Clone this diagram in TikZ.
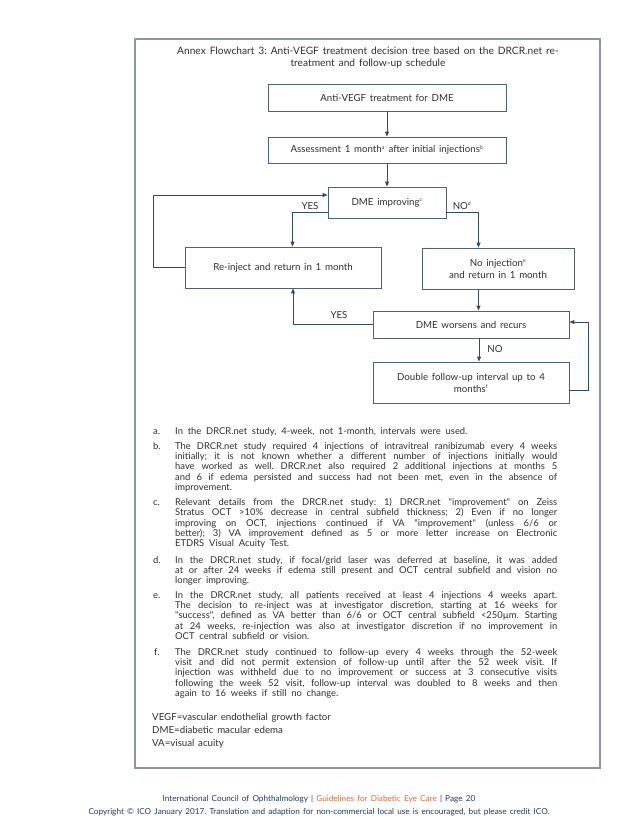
\documentclass[tikz,border=0pt]{standalone}
\usepackage{fontspec}
\setmainfont{Lato}[WordSpace=1.5]
\newfontfamily\notefont{Lato}[WordSpace=2.0]
\usepackage{xcolor}
\usetikzlibrary{arrows.meta, positioning, calc}
\definecolor{icoline}{HTML}{2F4D6B}
\definecolor{icobox}{HTML}{4B6378}
\definecolor{icoframe}{HTML}{8A98A6}
\definecolor{icotext}{HTML}{2E2E2E}
\definecolor{iconavy}{HTML}{1F3A5A}
\definecolor{icoorange}{HTML}{E0673A}
\frenchspacing

\begin{document}
\begin{tikzpicture}[
    x=1pt, y=-1pt,
    every node/.style={text=icotext},
    stepbox/.style={rectangle, draw=icobox, line width=0.8pt,
                    minimum width=#1, align=center, inner sep=2pt,
                    font=\fontsize{9.7}{12}\selectfont},
    flow/.style={-{Triangle[width=4pt,length=5pt]}, draw=icoline, line width=0.9pt},
    lbl/.style={font=\fontsize{9.7}{11}\selectfont, inner sep=1pt},
    note/.style={anchor=north west, inner sep=0pt, text width=382pt, align=justify,
                 font=\notefont\fontsize{9.4}{10.3}\selectfont},
    notelab/.style={anchor=base west, inner sep=0pt, font=\notefont\fontsize{9.4}{10.3}\selectfont},
]
\useasboundingbox (0,0) rectangle (638,826);
\draw[icoframe, line width=1.4pt] (135,39) rectangle (600,768);

% title
\node[align=center, font=\fontsize{10.2}{11.5}\selectfont] (title) at (368,57.5)
    {Annex Flowchart 3: Anti-VEGF treatment decision tree based on the DRCR.net re-\\treatment and follow-up schedule};

% flowchart boxes
\node[stepbox=238pt, minimum height=27pt] (treat)   at (387,97.5)  {Anti-VEGF treatment for DME};
\node[stepbox=238pt, minimum height=26pt] (assess)  at (387,150)   {Assessment 1 month\textsuperscript{\tiny a} after initial injections\textsuperscript{\tiny b}};
\node[stepbox=118pt, minimum height=31pt] (improve) at (387,202.5) {DME improving\textsuperscript{\tiny c}};
\node[stepbox=196pt, minimum height=41pt] (reinject) at (283,267.5) {Re-inject and return in 1 month};
\node[stepbox=152pt, minimum height=41pt] (noinj)   at (498,268.5) {No injection\textsuperscript{\tiny e}\\and return in 1 month};
\node[stepbox=196pt, minimum height=27pt] (worsens) at (471,324.5) {DME worsens and recurs};
\node[stepbox=196pt, minimum height=41pt] (double)  at (471,382.5) {Double follow-up interval up to 4\\months\textsuperscript{\tiny f}};

% connectors
\draw[flow] (treat) -- (assess);
\draw[flow] (assess) -- (improve);
\draw[flow] ([yshift=-9.5pt]improve.west) -| ([xshift=9.5pt]reinject.north);
\draw[flow] ([yshift=-9.5pt]improve.east) -| ([xshift=-19.5pt]noinj.north);
\draw[flow] (reinject.west) -- ++(-31,0) |- ([yshift=7.5pt]improve.west);
\draw[flow] ([xshift=-19.5pt]noinj.south) -- ([xshift=-19.5pt]noinj.south |- worsens.north);
\draw[flow] (worsens.west) -| ([xshift=10pt]reinject.south);
\draw[flow] ([xshift=8pt]worsens.south) -- ([xshift=8pt]worsens.south |- double.north);
\draw[flow] ([yshift=-7.5pt]double.east) -- ++(19,0) |- ([yshift=2.5pt]worsens.east);

% branch labels
\node[lbl] (yesa) at (310,206) {YES};
\node[lbl] (noa)  at (462,206) {NO\textsuperscript{\tiny d}};
\node[lbl] (yesb) at (339,315) {YES};
\node[lbl] (nob)  at (495,349) {NO};

% notes
\node[note] (notea) at (175,427) {In the DRCR.net study, 4-week, not 1-month, intervals were used.};
\node[note] (noteb) at (175,442) {The DRCR.net study required 4 injections of intravitreal ranibizumab every 4 weeks\linebreak
  initially; it is not known whether a different number of injections initially would\linebreak
  have worked as well. DRCR.net also required 2 additional injections at months 5\linebreak
  and 6 if edema persisted and success had not been met, even in the absence of\linebreak
  improvement.};
\node[note] (notec) at (175,498) {Relevant details from the DRCR.net study: 1) DRCR.net "improvement" on Zeiss\linebreak
  Stratus OCT >10\% decrease in central subfield thickness; 2) Even if no longer\linebreak
  improving on OCT, injections continued if VA "improvement" (unless 6/6 or\linebreak
  better); 3) VA improvement defined as 5 or more letter increase on Electronic\linebreak
  ETDRS Visual Acuity Test.};
\node[note] (noted) at (175,556) {In the DRCR.net study, if focal/grid laser was deferred at baseline, it was added\linebreak
  at or after 24 weeks if edema still present and OCT central subfield and vision no\linebreak
  longer improving.};
\node[note] (notee) at (175,591) {In the DRCR.net study, all patients received at least 4 injections 4 weeks apart.\linebreak
  The decision to re-inject was at investigator discretion, starting at 16 weeks for\linebreak
  "success", defined as VA better than 6/6 or OCT central subfield <250µm. Starting\linebreak
  at 24 weeks, re-injection was also at investigator discretion if no improvement in\linebreak
  OCT central subfield or vision.};
\node[note] (notef) at (175,648) {The DRCR.net study continued to follow-up every 4 weeks through the 52-week\linebreak
  visit and did not permit extension of follow-up until after the 52 week visit. If\linebreak
  injection was withheld due to no improvement or success at 3 consecutive visits\linebreak
  following the week 52 visit, follow-up interval was doubled to 8 weeks and then\linebreak
  again to 16 weeks if still no change.};

% note letters
\node[notelab] (laba) at ([xshift=-22pt]notea.base west) {a.};
\node[notelab] (labb) at ([xshift=-22pt]noteb.base west) {b.};
\node[notelab] (labc) at ([xshift=-22pt]notec.base west) {c.};
\node[notelab] (labd) at ([xshift=-22pt]noted.base west) {d.};
\node[notelab] (labe) at ([xshift=-22pt]notee.base west) {e.};
\node[notelab] (labf) at ([xshift=-21pt]notef.base west) {f.};

% abbreviations
\node[anchor=north west, inner sep=0pt, align=left, font=\fontsize{9.7}{13}\selectfont] (abbr) at (152,713)
  {VEGF=vascular endothelial growth factor\\DME=diabetic macular edema\\VA=visual acuity};

% footer
\node[inner sep=0pt, text=iconavy, font=\fontsize{8.2}{9}\selectfont] (foota) at (319,799)
  {International Council of Ophthalmology | \textcolor{icoorange}{Guidelines for Diabetic Eye Care} | Page 20};
\node[inner sep=0pt, text=iconavy, font=\fontsize{8.2}{9}\selectfont] (footb) at (319,812)
  {Copyright © ICO January 2017. Translation and adaption for non-commercial local use is encouraged, but please credit ICO.};
\end{tikzpicture}
\end{document}
